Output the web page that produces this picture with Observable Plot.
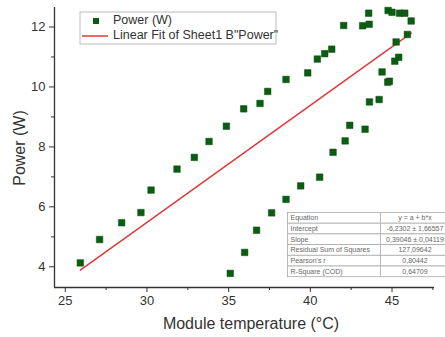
<!DOCTYPE html>
<html>
<head>
<meta charset="utf-8">
<script src="https://cdn.jsdelivr.net/npm/d3@7"></script>
<script src="https://cdn.jsdelivr.net/npm/@observablehq/plot@0.6"></script>
<style>
  html, body { margin: 0; padding: 0; background: #fff; }
  #chart { width: 445px; height: 337px; }
  svg { font-family: "Liberation Sans", Arial, sans-serif; }
</style>
</head>
<body>
<div id="chart"></div>
<script>
// Data
const temperature = [25.92, 27.1, 28.45, 29.63, 30.25, 31.84, 32.9, 33.8, 34.86, 35.92, 36.92, 37.39, 38.51, 39.84, 40.43, 40.88, 41.31, 42.04, 43.2, 43.6, 43.57, 44.76, 45.0, 45.47, 45.78, 46.17, 45.94, 45.25, 45.41, 45.17, 44.39, 44.84, 44.74, 44.21, 43.62, 43.35, 42.41, 42.13, 41.39, 40.57, 39.41, 38.51, 37.63, 36.71, 35.98, 35.1];
const power = [4.13, 4.91, 5.47, 5.81, 6.56, 7.26, 7.65, 8.18, 8.69, 9.27, 9.45, 9.85, 10.25, 10.47, 10.93, 11.11, 11.26, 12.05, 12.04, 12.09, 12.46, 12.55, 12.49, 12.46, 12.46, 12.2, 11.75, 11.5, 10.99, 10.86, 10.5, 10.19, 10.16, 9.58, 9.5, 8.59, 8.72, 8.2, 7.82, 6.99, 6.7, 6.25, 5.8, 5.22, 4.48, 3.78];

const fitIntercept = -6.2302;
const fitSlope = 0.39046;

const xTicks = [25, 30, 35, 40, 45];
const xMinorTicks = [27.5, 32.5, 37.5, 42.5, 47.5];
const yTicks = [4, 6, 8, 10, 12];
const yMinorTicks = [5, 7, 9, 11];

const tableLabels = ["Equation", "Intercept", "Slope", "Residual Sum of Squares", "Pearson's r", "R-Square (COD)"];
const tableValues = ["y = a + b*x", "-6,2302 \u00b1 1,66557", "0,39046 \u00b1 0,04119", "127,09642", "0,80442", "0,64709"];

const legendLabels = ["Power (W)", "Linear Fit of Sheet1 B\"Power\""];
const xLabel = "Module temperature (\u00b0C)";
const yLabel = "Power (W)";

const points = temperature.map((t, i) => ({t, p: power[i]}));
const xMin = d3.min(temperature), xMax = d3.max(temperature);
const fit = [xMin, xMax].map(t => ({t, p: fitIntercept + fitSlope * t}));

const W = 445, H = 337;
const mL = 54, mR = 11, mT = 7, mB = 50;
const axisColor = "#333";

const chart = Plot.plot({
  width: W, height: H,
  marginLeft: mL, marginRight: mR, marginTop: mT, marginBottom: mB,
  style: {fontFamily: "'Liberation Sans', Arial, sans-serif", color: axisColor, background: "#fff"},
  x: {domain: [24.34, 47.6]},
  y: {domain: [3.31, 12.65]},
  marks: [
    Plot.ruleX([24.34], {stroke: axisColor, strokeWidth: 1.3}),
    Plot.ruleY([3.31], {stroke: axisColor, strokeWidth: 1.3}),
    Plot.axisX({ticks: xTicks, tickSize: 5, tickPadding: 3, fontSize: 13, label: null, tickFormat: d => d}),
    Plot.axisX({ticks: xMinorTicks, tickSize: 3, text: null, label: null}),
    Plot.axisY({ticks: yTicks, tickSize: 5, tickPadding: 4, fontSize: 13, label: null, tickFormat: d => d}),
    Plot.axisY({ticks: yMinorTicks, tickSize: 3, text: null, label: null}),
    Plot.line(fit, {x: "t", y: "p", stroke: "#e0393b", strokeWidth: 1.5}),
    Plot.dot(points, {x: "t", y: "p", symbol: "square", r: 3.7, fill: "#0b5d12", stroke: "#0a4f0e", strokeWidth: 0.5})
  ]
});

document.getElementById("chart").appendChild(chart);
const svg = d3.select(chart);

// Axis titles
svg.append("text")
  .attr("x", (mL + W - mR) / 2 + 7).attr("y", 325)
  .attr("text-anchor", "middle").attr("dominant-baseline", "middle")
  .attr("font-size", 16).attr("fill", "#333").text(xLabel);
svg.append("text")
  .attr("transform", `translate(21,${(mT + H - mB) / 2 + 1}) rotate(-90)`)
  .attr("text-anchor", "middle").attr("dominant-baseline", "middle")
  .attr("font-size", 16).attr("fill", "#333").text(yLabel);

// Legend
const lg = svg.append("g").attr("text-anchor", "start");
lg.append("rect").attr("x", 80).attr("y", 12).attr("width", 196).attr("height", 32)
  .attr("fill", "#fff").attr("stroke", "#bbb").attr("stroke-width", 1);
lg.append("rect").attr("x", 93).attr("y", 18).attr("width", 6).attr("height", 6).attr("fill", "#0b5d12");
lg.append("line").attr("x1", 82).attr("x2", 108).attr("y1", 36).attr("y2", 36)
  .attr("stroke", "#e0393b").attr("stroke-width", 1.5);
legendLabels.forEach((s, i) => {
  lg.append("text").attr("x", 113).attr("y", 21 + i * 15).attr("text-anchor", "start")
    .attr("dominant-baseline", "middle").attr("font-size", 12.5).attr("fill", "#333").text(s);
});

// Fit results table
const tg = svg.append("g").attr("text-anchor", "start");
const tx = 287.5, ty = 212.5, rowH = 10.7, colX = 380.5, tRight = 460;
tableLabels.forEach((lab, i) => {
  const y = ty + i * rowH;
  tg.append("rect").attr("x", tx).attr("y", y).attr("width", tRight - tx).attr("height", rowH)
    .attr("fill", "#fff").attr("stroke", "#aaa").attr("stroke-width", 0.8);
  tg.append("text").attr("x", tx + 3).attr("y", y + rowH / 2 + 0.5).attr("text-anchor", "start")
    .attr("dominant-baseline", "middle").attr("font-size", 7).attr("fill", "#666").text(lab);
  tg.append("text").attr("x", 415).attr("y", y + rowH / 2 + 0.5)
    .attr("text-anchor", "middle").attr("dominant-baseline", "middle")
    .attr("font-size", 7).attr("fill", "#666").text(tableValues[i]);
});
tg.append("line").attr("x1", colX).attr("x2", colX).attr("y1", ty).attr("y2", ty + rowH * 6)
  .attr("stroke", "#aaa").attr("stroke-width", 0.8);
</script>
</body>
</html>
